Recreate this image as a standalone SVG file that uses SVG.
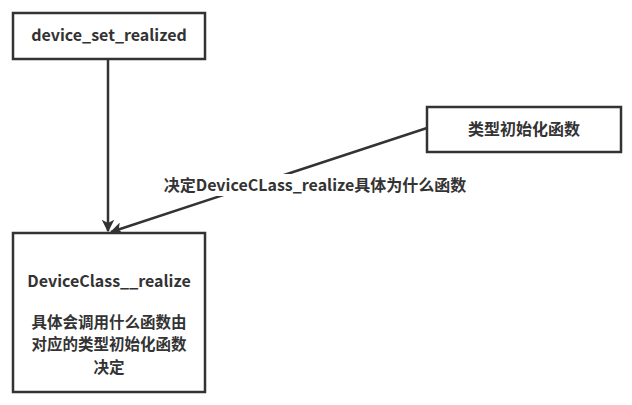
<svg xmlns="http://www.w3.org/2000/svg" width="632" height="405" viewBox="0 0 632 405">
<defs>
<style>
.box{fill:#fff;stroke:#333;stroke-width:2.5}
.t{font-family:"Microsoft YaHei","Noto Sans CJK SC","Noto Sans",sans-serif;font-weight:bold;fill:#333;text-anchor:middle;font-size:16px}
.c{font-size:15.5px}
.edge{fill:none;stroke:#333;stroke-width:2.5}
</style>
<marker id="arr" viewBox="0 0 10 10" refX="9" refY="5" markerWidth="5" markerHeight="5" orient="auto" markerUnits="strokeWidth">
<path d="M0,0 L10,5 L0,10 L2.5,5 Z" fill="#333"/>
</marker>
</defs>
<rect width="632" height="405" fill="#fff"/>
<g id="connectors">
<line class="edge" x1="108" y1="59" x2="108" y2="231" marker-end="url(#arr)"/>
<line class="edge" x1="427" y1="128" x2="111" y2="232" marker-end="url(#arr)"/>
<rect x="160" y="174" width="311" height="22" fill="#fff"/>
<text class="t" x="315" y="191">决定DeviceCLass_realize具体为什么函数</text>
</g>
<g id="node-device-set-realized">
<rect class="box" x="13" y="13" width="192" height="46"/>
<text class="t" x="109" y="41">device_set_realized</text>
</g>
<g id="node-type-init">
<rect class="box" x="427" y="107" width="194" height="45"/>
<text class="t" x="524" y="135">类型初始化函数</text>
</g>
<g id="node-deviceclass-realize">
<rect class="box" x="13" y="233" width="192" height="159"/>
<text class="t" x="109" y="287">DeviceClass__realize</text>
<text class="t c" x="109" y="327.5">具体会调用什么函数由</text>
<text class="t c" x="109" y="350">对应的类型初始化函数</text>
<text class="t c" x="109" y="372.5">决定</text>
</g>
</svg>
